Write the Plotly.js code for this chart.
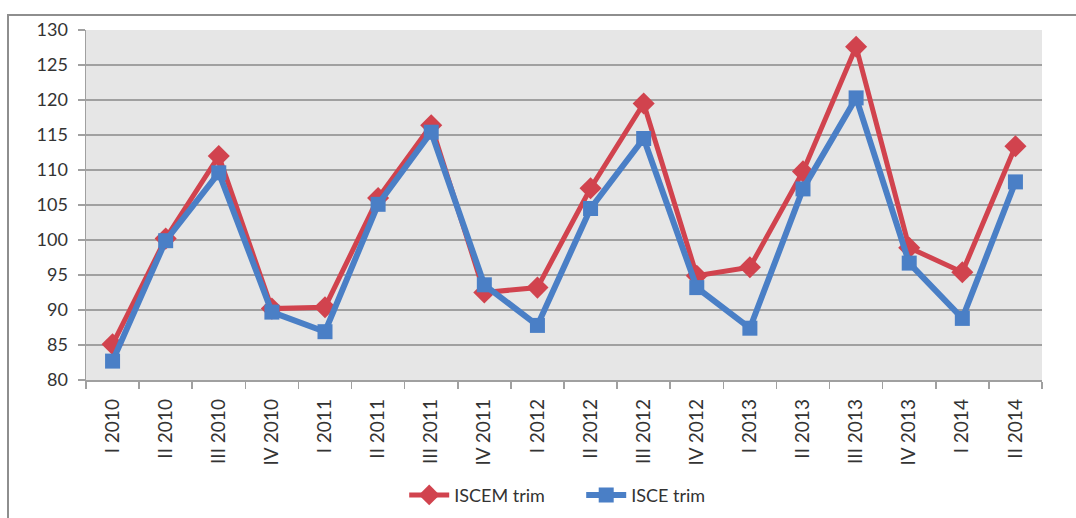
<!DOCTYPE html>
<html>
<head>
<meta charset="utf-8">
<script src="https://cdn.plot.ly/plotly-3.0.1.min.js"></script>
<style>
  html, body { margin: 0; padding: 0; background: #fff; }
  #wrap { position: relative; width: 1076px; height: 518px; overflow: hidden; }
  #chart { position: absolute; left: 0; top: 0; width: 1076px; height: 518px; }
  #frame { position: absolute; left: 7px; top: 14px; width: 1080px; height: 520px;
           border-top: 2px solid #8e8e8e; border-left: 2px solid #8e8e8e; pointer-events: none; }
</style>
</head>
<body>
<div id="wrap">
  <div id="chart"></div>
  <div id="frame"></div>
</div>
<script>
const quarters = ["I 2010","II 2010","III 2010","IV 2010",
                  "I 2011","II 2011","III 2011","IV 2011",
                  "I 2012","II 2012","III 2012","IV 2012",
                  "I 2013","II 2013","III 2013","IV 2013",
                  "I 2014","II 2014"];
const iscemTrim = [85.1, 100.2, 112.0, 90.2, 90.4, 106.0, 116.4, 92.5, 93.2, 107.4, 119.5, 94.9,
                   96.1, 109.8, 127.6, 98.9, 95.4, 113.4];
const isceTrim  = [82.7, 99.9, 109.6, 89.7, 86.9, 105.1, 115.4, 93.6, 87.8, 104.5, 114.5, 93.2,
                   87.4, 107.3, 120.3, 96.7, 88.8, 108.3];

const fontFam = "Lato, 'Open Sans', sans-serif";

const traces = [
  {
    x: quarters, y: iscemTrim, name: "ISCEM trim", type: "scatter", mode: "lines+markers",
    line: { color: "#d1434e", width: 5 },
    marker: { symbol: "diamond", size: 17, color: "#d1434e" }
  },
  {
    x: quarters, y: isceTrim, name: "ISCE trim", type: "scatter", mode: "lines+markers",
    line: { color: "#4a7fc6", width: 6 },
    marker: { symbol: "square", size: 15, color: "#4a7fc6" }
  }
];

const layout = {
  width: 1076, height: 518,
  margin: { l: 86, r: 34, t: 30, b: 138, autoexpand: false },
  paper_bgcolor: "rgba(0,0,0,0)",
  plot_bgcolor: "#e6e6e6",
  font: { family: fontFam, color: "#333333", size: 18 },
  showlegend: true,
  legend: {
    orientation: "h", x: 0.518, xanchor: "center",
    yref: "container", y: 0.044, yanchor: "middle",
    font: { family: fontFam, size: 18, color: "#333333" },
    itemwidth: 40, entrywidth: 122, bgcolor: "rgba(0,0,0,0)"
  },
  xaxis: {
    type: "category",
    range: [-0.5, 17.5],
    automargin: false,
    tickangle: -90,
    tickson: "boundaries",
    ticks: "outside", ticklen: 7, tickcolor: "#a0a0a0", tickwidth: 1.5,
    showline: true, linecolor: "#a0a0a0", linewidth: 1.5,
    showgrid: false, zeroline: false,
    ticklabelstandoff: 10,
    tickfont: { family: fontFam, size: 19, color: "#333333" },
    fixedrange: true
  },
  yaxis: {
    range: [80, 130], dtick: 5, tick0: 80,
    automargin: false,
    ticks: "outside", ticklen: 7, tickcolor: "#a0a0a0", tickwidth: 1.5,
    showline: true, linecolor: "#a0a0a0", linewidth: 1.5,
    showgrid: true, gridcolor: "#a0a0a0", gridwidth: 1.5,
    zeroline: false,
    ticklabelstandoff: 6,
    tickfont: { family: fontFam, size: 18, color: "#333333" },
    fixedrange: true
  }
};

Plotly.newPlot("chart", traces, layout, { displayModeBar: false, staticPlot: true });
</script>
</body>
</html>
